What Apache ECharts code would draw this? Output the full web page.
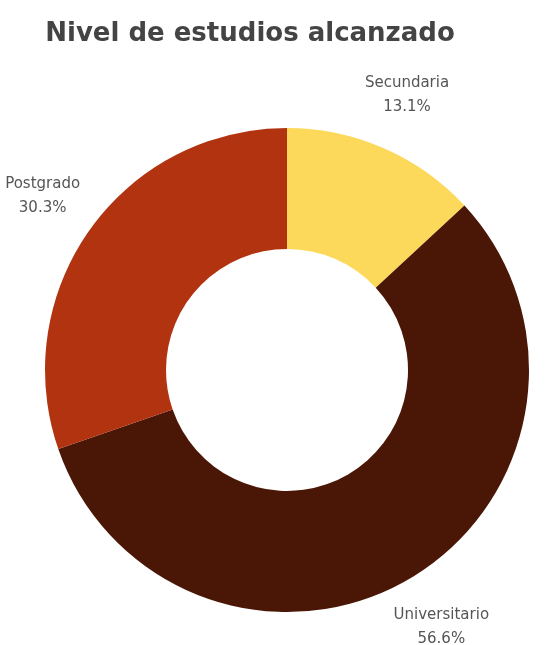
<!DOCTYPE html>
<html><head><meta charset="utf-8">
<script src="https://cdn.jsdelivr.net/npm/echarts@6/dist/echarts.min.js"></script>
<style>html,body{margin:0;padding:0;background:#fff}#c{width:546px;height:645px}</style>
</head><body><div id="c"></div>
<script>
const categories = ['Secundaria', 'Universitario', 'Postgrado'];
const values = [13.1, 56.6, 30.3];
const colors = ['#FCD95A', '#4A1606', '#B2330F'];

const chart = echarts.init(document.getElementById('c'), null, {renderer: 'canvas'});
const data = categories.map((n, i) => ({name: n, value: values[i], itemStyle: {color: colors[i]}}));
const labelData = categories.map((n, i) => ({name: n, value: values[i]}));
chart.setOption({
  animation: false,
  title: {
    text: 'Nivel de estudios alcanzado',
    left: 245, top: 16, textAlign: 'center',
    textStyle: {fontFamily: 'DejaVu Sans', fontWeight: 'bold', fontSize: 26, color: '#444'}
  },
  series: [{
    type: 'pie',
    center: [287, 370],
    radius: [121, 242],
    startAngle: 90,
    clockwise: true,
    label: {show: false},
    labelLine: {show: false},
    silent: true,
    data: data
  }, {
    type: 'pie',
    center: [287, 370],
    radius: [282, 312],
    startAngle: 90,
    clockwise: true,
    silent: true,
    itemStyle: {color: 'rgba(0,0,0,0)'},
    label: {
      show: true, position: 'inside', rotate: 0,
      formatter: p => p.name + '\n' + p.value.toFixed(1) + '%',
      fontFamily: 'DejaVu Sans', fontSize: 15, lineHeight: 24, color: '#555'
    },
    labelLine: {show: false},
    data: labelData
  }]
});
</script></body></html>
